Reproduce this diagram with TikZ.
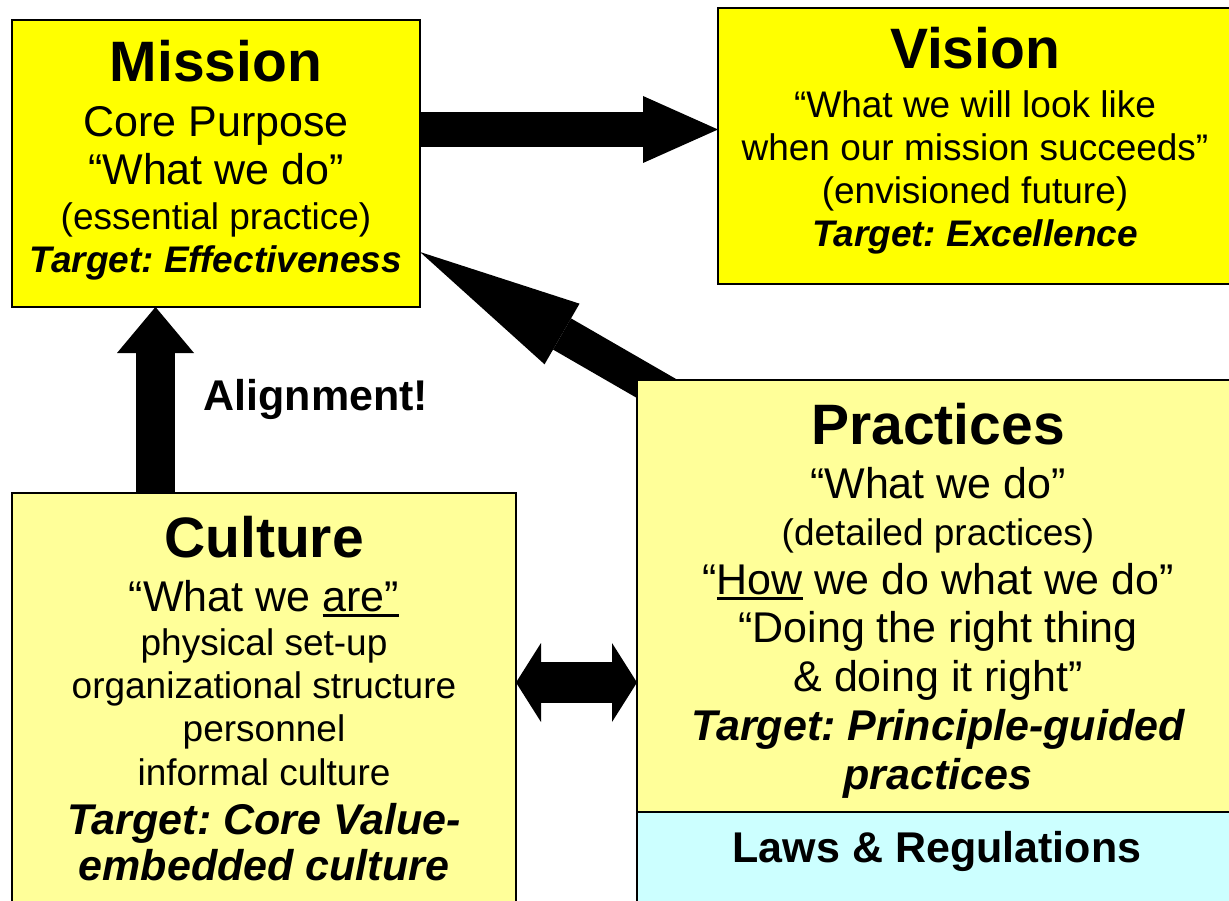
\documentclass[tikz,border=0pt]{standalone}
\usepackage{fontspec}
\setmainfont{Liberation Sans}
\usetikzlibrary{arrows.meta,calc}
\definecolor{brightyellow}{HTML}{FFFF00}
\definecolor{paleyellow}{HTML}{FFFF99}
\definecolor{palecyan}{HTML}{CCFFFF}
% font size helper (size = leading)
\newcommand\sz[1]{\fontsize{#1}{#1}\selectfont}
% heavy underline drawn below the baseline
\newcommand\thickul[1]{\vtop{\hbox{#1}\kern3pt\hrule height 2.5pt}}
\frenchspacing
\begin{document}
\begin{tikzpicture}[x=1pt,y=-1pt,
  box/.style={draw=black, line width=1.5pt, inner sep=0pt, outer sep=0pt, rectangle},
  txt/.style={anchor=base, inner sep=0pt, outer sep=0pt, text=black},
  title/.style={txt, font=\sz{57}\bfseries},
  big/.style={txt, font=\sz{43}},
  small/.style={txt, font=\sz{37}},
  target/.style={txt, font=\sz{37}\bfseries\itshape},
  bigtarget/.style={txt, font=\sz{43}\bfseries\itshape},
]
\useasboundingbox (0,0) rectangle (1229,901);
\clip (0,0) rectangle (1229,901);

% upper boxes and culture box
\node[box, fill=brightyellow, minimum width=408pt, minimum height=287pt] (mission) at (216,163.5) {};
\node[box, fill=brightyellow, minimum width=516pt, minimum height=276pt] (vision) at (976,146) {};
\node[box, fill=paleyellow, minimum width=504pt, minimum height=447pt] (culture) at (264,716.5) {};

% block arrows
\draw[line width=35pt, -{Triangle[length=75pt,width=67pt,line width=0pt]}]
  (mission.east |- 0,129.5) -- (vision.west |- 0,129.5);
\draw[line width=39pt, -{Triangle[length=46pt,width=77pt,line width=0pt]}]
  (155.5,0 |- culture.north) -- (155.5,0 |- mission.south);
\coordinate (diagtail) at (718,424);
\draw[line width=36pt, -{Triangle[length=164pt,width=70pt,line width=0pt]}]
  (diagtail) -- (mission.east |- 0,252);

% practices box with the laws strip below it
\node[box, fill=paleyellow, minimum width=603pt, minimum height=432pt] (practices) at (938.5,596) {};
\node[box, fill=palecyan, minimum width=603pt, minimum height=128pt] (laws) at (938.5,876) {};

\draw[line width=41pt, {Triangle[length=25pt,width=79pt,line width=0pt]}-{Triangle[length=25pt,width=79pt,line width=0pt]}]
  (culture.east |- 0,682.5) -- (practices.west |- 0,682.5);

% Mission
\node[title]  (mtitle) at (216,82)  {Mission};
\node[big]    (m1)     at (216,137) {Core Purpose};
\node[big]    (m2)     at (216,185) {“What we do”};
\node[small]  (m3)     at (216,230) {(essential practice)};
\node[target] (m4)     at (216,273) {Target: Effectiveness};

% Vision
\node[title]  (vtitle) at (975,69)  {Vision};
\node[small]  (v1)     at (975,118) {“What we will look like};
\node[small]  (v2)     at (975,161) {when our mission succeeds”};
\node[small]  (v3)     at (975,204) {(envisioned future)};
\node[target] (v4)     at (975,247) {Target: Excellence};

% label beside the upward arrow
\node[txt, font=\sz{43}\bfseries] (alignlabel) at (316,410) {Alignment!};

% Culture
\node[title]     (ctitle) at (264,557) {Culture};
\node[big]       (c1)     at (264,611) {“What we \thickul{are”}};
\node[small]     (c2)     at (264,655) {physical set-up};
\node[small]     (c3)     at (264,698) {organizational structure};
\node[small]     (c4)     at (264,741) {personnel};
\node[small]     (c5)     at (264,785) {informal culture};
\node[bigtarget] (c6)     at (264,834) {Target: Core Value-};
\node[bigtarget] (c7)     at (264,880) {embedded culture};

% Practices
\node[title]     (ptitle) at (938,444) {Practices};
\node[big]       (p1)     at (938,498) {“What we do”};
\node[small]     (p2)     at (938,545) {(detailed practices)};
\node[big]       (p3)     at (938,594) {“\thickul{How} we do what we do”};
\node[big]       (p4)     at (938,642) {“Doing the right thing};
\node[big]       (p5)     at (938,691) {\& doing it right”};
\node[bigtarget] (p6)     at (938,740) {Target: Principle-guided};
\node[bigtarget] (p7)     at (938,789) {practices};

% Laws & Regulations
\node[txt, font=\sz{43}\bfseries] (lawstext) at (937,862) {Laws \& Regulations};
\end{tikzpicture}
\end{document}
